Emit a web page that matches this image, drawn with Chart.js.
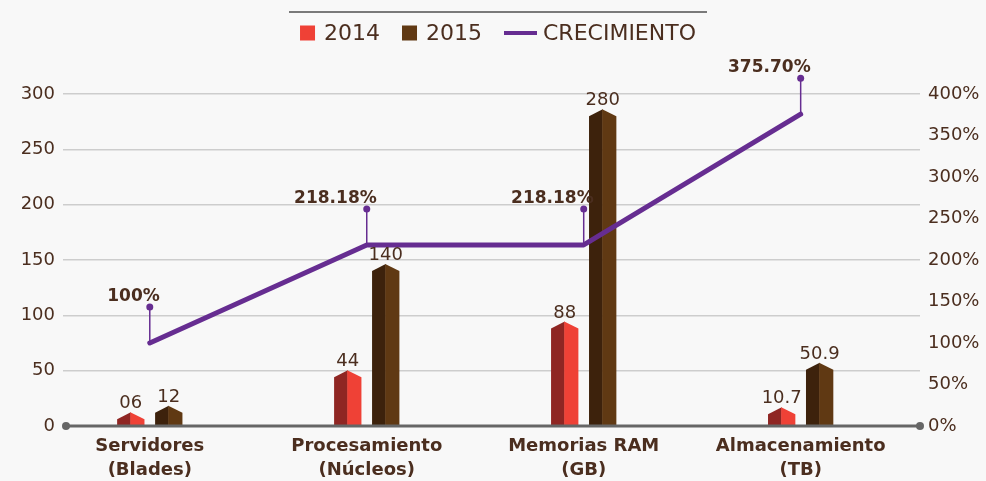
<!DOCTYPE html>
<html lang="es">
<head>
<meta charset="UTF-8">
<title>Crecimiento 2014 - 2015</title>
<script src="https://cdn.jsdelivr.net/npm/chart.js"></script>
<style>
  html, body { margin: 0; padding: 0; background: #f8f8f8; }
  #caja { width: 986px; height: 481px; position: relative; }
</style>
</head>
<body>
<div id="caja"><canvas id="grafico"></canvas></div>
<script>
  const categorias = [['Servidores', '(Blades)'], ['Procesamiento', '(Núcleos)'], ['Memorias RAM', '(GB)'], ['Almacenamiento', '(TB)']];
  const valores2014 = [6, 44, 88, 10.7];
  const valores2015 = [12, 140, 280, 50.9];
  const etiquetas2014 = ['06', '44', '88', '10.7'];
  const etiquetas2015 = ['12', '140', '280', '50.9'];
  const crecimiento = [100, 218.18, 218.18, 375.70];
  const maxIzq = 300;
  const maxDer = 400;
  const paso = 50;

  const marron = '#4b2e1f';
  const fuente = '"DejaVu Sans", sans-serif';

  const puntos = arr => arr.map((v, i) => ({ x: i, y: v }));

  // barras con techo en punta, mitad oscura / mitad clara
  const barras3d = {
    id: 'barras3d',
    afterDatasetDraw(chart, args) {
      const ds = chart.data.datasets[args.index];
      if (ds.type !== 'bar') return;
      const ctx = chart.ctx;
      args.meta.data.forEach(el => {
        const p = el.getProps(['x', 'y', 'base', 'width'], true);
        const izq = p.x - p.width / 2, der = p.x + p.width / 2;
        const punta = p.y - 7;
        ctx.save();
        ctx.fillStyle = ds.colorOscuro;
        ctx.beginPath();
        ctx.moveTo(izq, p.base); ctx.lineTo(izq, p.y); ctx.lineTo(p.x, punta); ctx.lineTo(p.x, p.base);
        ctx.closePath(); ctx.fill();
        ctx.fillStyle = ds.colorClaro;
        ctx.beginPath();
        ctx.moveTo(p.x - 0.5, p.base); ctx.lineTo(p.x - 0.5, punta); ctx.lineTo(der, p.y); ctx.lineTo(der, p.base);
        ctx.closePath(); ctx.fill();
        ctx.restore();
      });
    },
    afterDatasetsDraw(chart) {
      const ctx = chart.ctx;
      const area = chart.chartArea;
      ctx.save();
      // eje x con puntos en los extremos
      ctx.strokeStyle = '#666'; ctx.fillStyle = '#666'; ctx.lineWidth = 3;
      ctx.beginPath(); ctx.moveTo(area.left + 3, area.bottom); ctx.lineTo(area.right, area.bottom); ctx.stroke();
      [area.left + 3, area.right].forEach(x => {
        ctx.beginPath(); ctx.arc(x, area.bottom, 4, 0, Math.PI * 2); ctx.fill();
      });

      chart.data.datasets.forEach((ds, i) => {
        const meta = chart.getDatasetMeta(i);
        if (ds.type === 'bar') {
          ctx.font = '18px ' + fuente;
          ctx.fillStyle = marron; ctx.textAlign = 'center'; ctx.textBaseline = 'alphabetic';
          meta.data.forEach((el, j) => ctx.fillText(ds.etiquetas[j], el.x, el.y - 11));
        } else {
          meta.data.forEach((el, j) => {
            const arriba = el.y - 36;
            ctx.strokeStyle = ds.borderColor; ctx.fillStyle = ds.borderColor; ctx.lineWidth = 1.5;
            ctx.beginPath(); ctx.moveTo(el.x, el.y); ctx.lineTo(el.x, arriba); ctx.stroke();
            ctx.beginPath(); ctx.arc(el.x, arriba, 3.5, 0, Math.PI * 2); ctx.fill();
            const v = ds.data[j].y;
            const txt = (Number.isInteger(v) ? v : v.toFixed(2)) + '%';
            ctx.font = 'bold 17px ' + fuente;
            ctx.fillStyle = marron; ctx.textAlign = 'right'; ctx.textBaseline = 'alphabetic';
            ctx.fillText(txt, el.x + 10, arriba - 6);
          });
        }
      });
      ctx.restore();
    }
  };

  // leyenda propia con linea gris encima
  const leyenda = {
    id: 'leyenda',
    afterDraw(chart) {
      const ctx = chart.ctx;
      const centro = chart.width / 2 + 5;
      ctx.save();
      ctx.strokeStyle = '#7a7a7a'; ctx.lineWidth = 2;
      ctx.beginPath(); ctx.moveTo(centro - 209, 12); ctx.lineTo(centro + 209, 12); ctx.stroke();

      ctx.font = '22px ' + fuente;
      ctx.textBaseline = 'middle'; ctx.textAlign = 'left';
      const items = chart.data.datasets.map(ds => ({
        texto: ds.label,
        color: ds.type === 'bar' ? ds.colorClaro : ds.borderColor,
        marca: ds.type === 'bar' ? 15 : 33,
        hueco: ds.type === 'bar' ? 9 : 6
      }));
      const sep = 22;
      let total = 0;
      items.forEach((it, k) => { total += it.marca + it.hueco + ctx.measureText(it.texto).width + (k ? sep : 0); });
      let x = centro - total / 2;
      const y = 33;
      items.forEach(it => {
        ctx.fillStyle = it.color;
        if (it.marca === 15) {
          ctx.fillRect(x, y - 7.5, 15, 15);
        } else {
          ctx.fillRect(x, y - 2, it.marca, 4);
        }
        x += it.marca + it.hueco;
        ctx.fillStyle = marron;
        ctx.fillText(it.texto, x, y + 1);
        x += ctx.measureText(it.texto).width + sep;
      });
      ctx.restore();
    }
  };

  new Chart(document.getElementById('grafico'), {
    type: 'bar',
    data: {
      datasets: [
        {
          type: 'bar', label: '2014', data: puntos(valores2014), yAxisID: 'yIzq', order: 1,
          etiquetas: etiquetas2014, colorOscuro: '#8f2623', colorClaro: '#ef4136',
          backgroundColor: 'rgba(0,0,0,0)', borderWidth: 0,
          categoryPercentage: 0.35, barPercentage: 0.72
        },
        {
          type: 'bar', label: '2015', data: puntos(valores2015), yAxisID: 'yIzq', order: 1,
          etiquetas: etiquetas2015, colorOscuro: '#3d220c', colorClaro: '#603913',
          backgroundColor: 'rgba(0,0,0,0)', borderWidth: 0,
          categoryPercentage: 0.35, barPercentage: 0.72
        },
        {
          type: 'line', label: 'CRECIMIENTO', data: puntos(crecimiento), yAxisID: 'yDer', order: 0,
          borderColor: '#662d91', borderWidth: 5, pointRadius: 0, tension: 0,
          borderCapStyle: 'round', borderJoinStyle: 'round'
        }
      ]
    },
    options: {
      responsive: true,
      maintainAspectRatio: false,
      animation: false,
      layout: { padding: { top: 94, left: 0, right: 0, bottom: 0 } },
      plugins: { legend: { display: false }, tooltip: { enabled: false } },
      scales: {
        x: {
          type: 'linear', min: -0.4, max: 3.55, offset: false,
          afterBuildTicks: s => { s.ticks = categorias.map((c, i) => ({ value: i })); },
          afterFit: s => { s.height = 55; },
          grid: { display: false, drawTicks: false },
          border: { display: false },
          ticks: {
            callback: v => categorias[v],
            autoSkip: false, maxRotation: 0, padding: 9,
            color: marron,
            font: { family: fuente, size: 18, weight: 'bold', lineHeight: 1.3 }
          }
        },
        yIzq: {
          position: 'left', min: 0, max: maxIzq,
          afterFit: s => { s.width = 63; },
          grid: { color: '#cdcdcd', lineWidth: 1.5, drawTicks: false },
          border: { display: false },
          ticks: { stepSize: paso, padding: 8, color: marron, font: { family: fuente, size: 18 } }
        },
        yDer: {
          position: 'right', min: 0, max: maxDer,
          afterFit: s => { s.width = 66; },
          grid: { display: false, drawTicks: false },
          border: { display: false },
          ticks: { stepSize: paso, padding: 8, color: marron, font: { family: fuente, size: 18 }, callback: v => v + '%' }
        }
      }
    },
    plugins: [barras3d, leyenda]
  });
</script>
</body>
</html>
